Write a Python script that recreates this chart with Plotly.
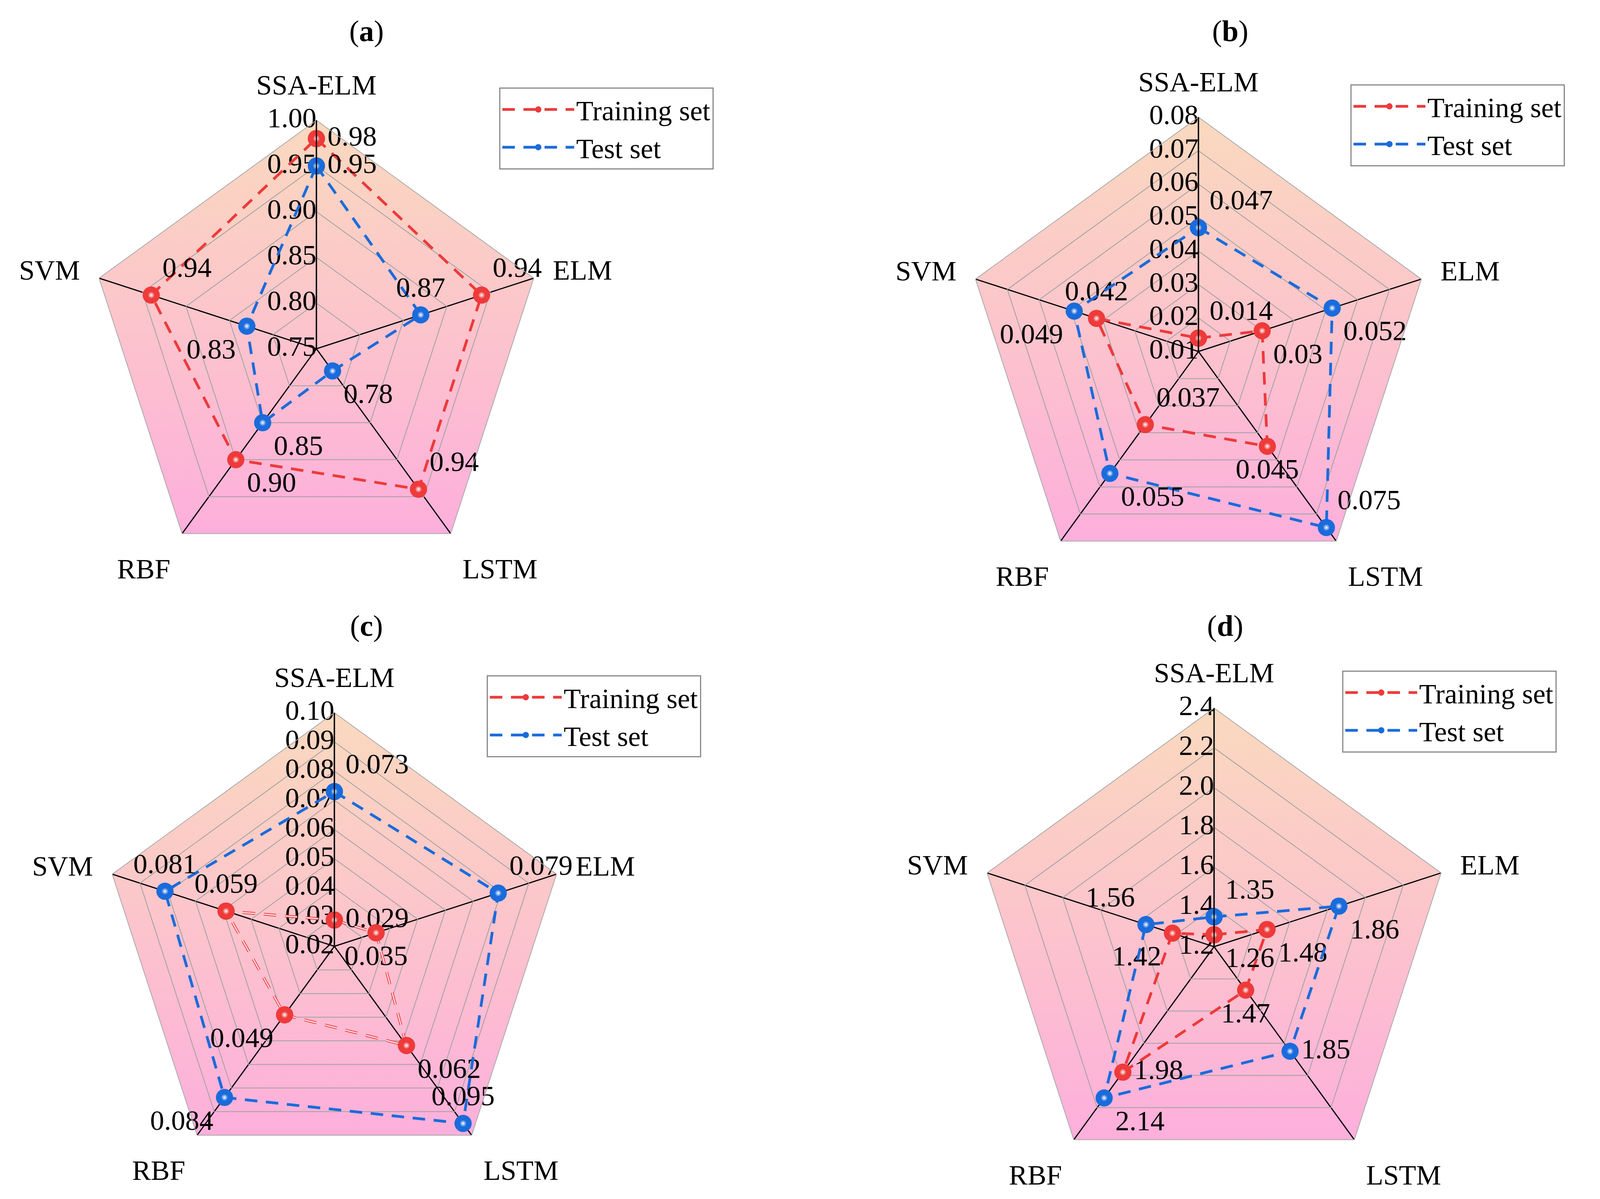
import base64
import math
import plotly.graph_objects as go

W, H = 4110, 3070
FONT = "Liberation Serif"

models = ["SSA-ELM", "ELM", "LSTM", "RBF", "SVM"]

a_train = [0.98, 0.94, 0.94, 0.90, 0.94]
a_test = [0.95, 0.87, 0.78, 0.85, 0.83]
a_ticks = [0.75, 0.80, 0.85, 0.90, 0.95, 1.00]

b_train = [0.014, 0.030, 0.045, 0.037, 0.042]
b_test = [0.047, 0.052, 0.075, 0.055, 0.049]
b_ticks = [0.01, 0.02, 0.03, 0.04, 0.05, 0.06, 0.07, 0.08]

c_train = [0.029, 0.035, 0.062, 0.049, 0.059]
c_test = [0.073, 0.079, 0.095, 0.084, 0.081]
c_ticks = [0.02, 0.03, 0.04, 0.05, 0.06, 0.07, 0.08, 0.09, 0.10]

d_train = [1.26, 1.48, 1.47, 1.98, 1.42]
d_test = [1.35, 1.86, 1.85, 2.14, 1.56]
d_ticks = [1.2, 1.4, 1.6, 1.8, 2.0, 2.2, 2.4]

RED = "#EE3A3A"
BLUE = "#1A6BDB"

panels = [
    dict(key="a", train=a_train, test=a_test, ticks=a_ticks, tfmt="{:.2f}", lfmt="{:.2f}",
         center=(802, 885), radius=585, title_x=930, title_y=71, legend=(1270, 216),
         tpos_train=["middle right", "top right", "top right", "bottom right", "top right"],
         tpos_test=["middle right", "top center", "bottom right", "bottom right", "bottom left"],
         hollow=False),
    dict(key="b", train=b_train, test=b_test, ticks=b_ticks, tfmt="{:.2f}", lfmt="{:g}",
         center=(3060, 892), radius=600, title_x=3141, title_y=71, legend=(3449, 208),
         tpos_train=["top right", "bottom right", "bottom center", "top right", "top center"],
         tpos_test=["top right", "bottom right", "top right", "bottom right", "bottom left"],
         hollow=False),
    dict(key="c", train=c_train, test=c_test, ticks=c_ticks, tfmt="{:.2f}", lfmt="{:g}",
         center=(848, 2415), radius=598, title_x=930, title_y=1594, legend=(1238, 1721),
         tpos_train=["middle right", "bottom center", "bottom right", "bottom left", "top center"],
         tpos_test=["top right", "top right", "top center", "bottom left", "top center"],
         hollow=True),
    dict(key="d", train=d_train, test=d_test, ticks=d_ticks, tfmt="{:.1f}", lfmt="{:g}",
         center=(3100, 2416), radius=611, title_x=3128, title_y=1594, legend=(3428, 1709),
         tpos_train=["bottom right", "bottom right", "bottom center", "middle right", "bottom left"],
         tpos_test=["top right", "bottom right", "middle right", "bottom right", "top left"],
         hollow=False),
]

# gradient pentagon background as svg
pts = []
for k in range(5):
    ang = math.radians(90 - 72 * k)
    pts.append(f"{math.cos(ang):.5f},{-math.sin(ang):.5f}")
svg = ("<svg xmlns='http://www.w3.org/2000/svg' width='1000' height='1000' viewBox='-1 -1 2 2' "
       "preserveAspectRatio='none'><defs><linearGradient id='g' x1='0' y1='0' x2='0' y2='1'>"
       "<stop offset='0' stop-color='#FAD9BE'/><stop offset='0.5' stop-color='#FCC4CC'/>"
       "<stop offset='1' stop-color='#FDAFDC'/></linearGradient></defs>"
       f"<polygon points='{' '.join(pts)}' fill='url(#g)'/></svg>")
svg_uri = "data:image/svg+xml;base64," + base64.b64encode(svg.encode()).decode()

fig = go.Figure()
layout = dict(width=W, height=H, autosize=False, margin=dict(l=0, r=0, t=0, b=0),
              paper_bgcolor="white", plot_bgcolor="white",
              font=dict(family=FONT, size=72, color="black"),
              images=[], annotations=[])

for i, p in enumerate(panels):
    pid = "polar" if i == 0 else f"polar{i+1}"
    lid = "legend" if i == 0 else f"legend{i+1}"
    cx, cy = p["center"]
    R = p["radius"]
    closed = models + [models[0]]
    ticks = p["ticks"]
    span = ticks[-1] - ticks[0]

    def lbls(vals):
        return [p["lfmt"].format(v) for v in vals] + [""]

    # radial tick labels, drawn on the SSA-ELM spoke (left side)
    fig.add_trace(go.Scatterpolar(
        r=ticks, theta=[models[0]] * len(ticks), mode="text", showlegend=False,
        subplot=pid, hoverinfo="skip", cliponaxis=False,
        text=[p["tfmt"].format(t) for t in ticks], textposition="middle left",
        textfont=dict(size=72, family=FONT, color="black")))

    tr = p["train"] + [p["train"][0]]
    te = p["test"] + [p["test"][0]]
    fig.add_trace(go.Scatterpolar(
        r=tr, theta=closed, mode="lines+markers+text", name="Training set",
        subplot=pid, legend=lid, cliponaxis=False,
        line=dict(color=RED, width=7, dash="32px,22px"),
        marker=dict(size=44, color=RED),
        text=lbls(p["train"]), textposition=p["tpos_train"] + ["top right"],
        textfont=dict(size=72, family=FONT, color="black")))
    if p["hollow"]:
        fig.add_trace(go.Scatterpolar(
            r=tr, theta=closed, mode="lines", showlegend=False, subplot=pid,
            line=dict(color="#FFE6EE", width=3, dash="32px,22px"), hoverinfo="skip"))
        fig.add_trace(go.Scatterpolar(
            r=p["train"], theta=models, mode="markers", showlegend=False, subplot=pid,
            marker=dict(size=44, color=RED), hoverinfo="skip"))
    fig.add_trace(go.Scatterpolar(
        r=te, theta=closed, mode="lines+markers+text", name="Test set",
        subplot=pid, legend=lid, cliponaxis=False,
        line=dict(color=BLUE, width=7, dash="32px,22px"),
        marker=dict(size=44, color=BLUE),
        text=lbls(p["test"]), textposition=p["tpos_test"] + ["top right"],
        textfont=dict(size=72, family=FONT, color="black")))
    # sphere highlights
    for vals, col in ((p["train"], RED), (p["test"], BLUE)):
        fig.add_trace(go.Scatterpolar(
            r=vals, theta=models, mode="markers", showlegend=False, subplot=pid,
            hoverinfo="skip",
            marker=dict(size=18, color=col, line=dict(width=0),
                        gradient=dict(type="radial", color="#FFFFFF"))))

    x0, x1 = (cx - R) / W, (cx + R) / W
    y0, y1 = 1 - (cy + R) / H, 1 - (cy - R) / H
    layout[pid] = dict(
        domain=dict(x=[x0, x1], y=[y0, y1]),
        gridshape="linear",
        bgcolor="rgba(0,0,0,0)",
        radialaxis=dict(range=[ticks[0] - span * 1e-4, ticks[-1]], tickvals=ticks,
                        showticklabels=False, angle=90,
                        showline=True, linecolor="black",
                        linewidth=3, gridcolor="#A0A0A0", gridwidth=2, ticks=""),
        angularaxis=dict(categoryarray=models, categoryorder="array",
                         direction="clockwise", rotation=90,
                         showline=True, linecolor="#A8A8A8", linewidth=2,
                         gridcolor="black", gridwidth=3,
                         ticks="outside", ticklen=36, tickcolor="rgba(0,0,0,0)",
                         tickfont=dict(size=72, family=FONT, color="black")),
    )
    lx, ly = p["legend"]
    layout[lid] = dict(x=lx / W, y=1 - ly / H, xanchor="left", yanchor="top",
                       bgcolor="white", bordercolor="#8A8A8A", borderwidth=3,
                       font=dict(size=72, family=FONT, color="black"),
                       itemwidth=184)
    layout["images"].append(dict(source=svg_uri, xref="paper", yref="paper",
                                 x=x0, y=y1, sizex=x1 - x0, sizey=y1 - y0,
                                 xanchor="left", yanchor="top", sizing="stretch",
                                 layer="below"))
    layout["annotations"].append(dict(text=f"(<b>{p['key']}</b>)", xref="paper", yref="paper",
                                      x=p["title_x"] / W, y=1 - p["title_y"] / H,
                                      xanchor="center", yanchor="middle", showarrow=False,
                                      font=dict(size=76, family=FONT, color="black")))

fig.update_layout(**layout)
fig.write_html("out.html")
